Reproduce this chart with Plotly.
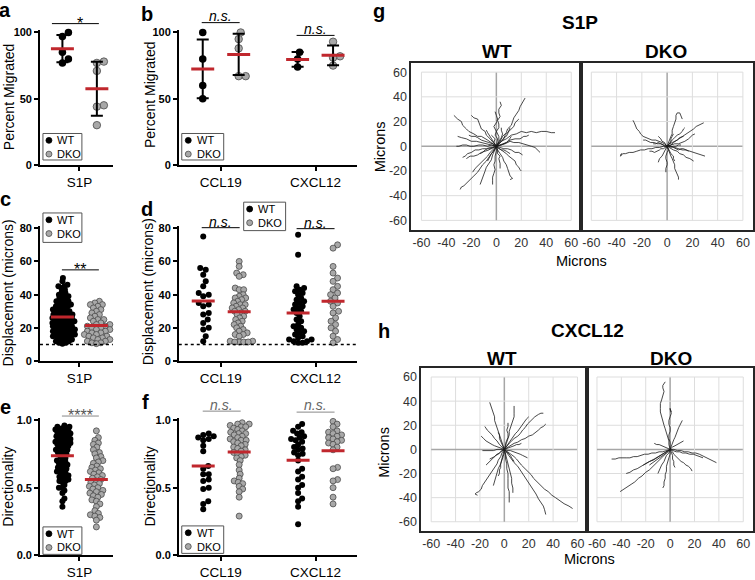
import plotly.graph_objects as go
import statistics as st

W, H = 755, 580
FONT = "Liberation Sans, Arial, Helvetica, sans-serif"
RED = "#c0272d"
GRAY = "#a8a8a8"
GRAY_EDGE = "#4a4a4a"

# ---------------- data ----------------
# a: percent migrated, S1P
a_wt = [100, 97, 85, 80, 77]
a_dko = [78, 77, 71, 45, 44, 30]
# b: percent migrated, CCL19 / CXCL12
b_ccl19_wt = [100, 80, 60, 50]
b_ccl19_dko = [100, 95, 88, 67, 67]
b_cxcl12_wt = [85, 80, 74]
b_cxcl12_dko = [93, 82, 81, 75]
# c: displacement (microns), S1P
c_wt = [50, 48, 46, 45, 45, 44, 43, 42, 41, 40, 40, 39, 38, 38, 37, 36, 36, 35, 35, 34,
        34, 33, 33, 32, 32, 31, 31, 30, 30, 30, 29, 29, 28, 28, 28, 27, 27, 27, 26, 26,
        26, 25, 25, 25, 24, 24, 24, 23, 23, 23, 22, 22, 22, 21, 21, 21, 20, 20, 20, 19,
        19, 19, 18, 18, 18, 17, 17, 17, 16, 16, 16, 15, 15, 15, 14, 14, 13, 13, 12, 12,
        11, 11, 10.5]
c_dko = [36, 35, 34, 34, 33, 32, 31, 30, 29, 28, 27, 26, 25, 25, 24, 23, 22, 22, 21, 21,
         20, 20, 19, 19, 18, 18, 17, 17, 16, 16, 15, 15, 14, 14, 13, 13, 12, 12, 11, 11, 10.5]
# d: displacement (microns), CCL19 / CXCL12
d_ccl19_wt = [75, 56, 55, 52, 48, 45, 41, 40, 39, 35, 34, 33, 29, 28, 25, 23, 20, 19, 15, 12]
d_ccl19_dko = [60, 57, 53, 52, 51, 44, 43, 43, 40, 39, 38, 38, 37, 36, 35, 34, 34, 33, 32, 32,
               31, 30, 30, 29, 28, 27, 26, 25, 24, 23, 22, 21, 20, 19, 18, 17, 16, 16, 15, 12,
               12, 11.5, 11.5, 11.5, 11.5]
d_cxcl12_wt = [76, 64, 45, 44, 43, 42, 41, 40, 38, 37, 36, 35, 34, 33, 32, 31, 30, 29, 27, 25,
               24, 22, 21, 20, 19, 18, 17, 16, 15, 14, 13, 13, 12, 12, 11, 11]
d_cxcl12_dko = [70, 68, 57, 53, 50, 48, 45, 43, 41, 40, 38, 36, 35, 33, 30, 29, 26, 24, 22, 20,
                18, 15, 13, 11]
# e: directionality, S1P
e_wt = [0.96, 0.95, 0.95, 0.94, 0.94, 0.93, 0.93, 0.92, 0.92, 0.91, 0.91, 0.90, 0.90, 0.89,
        0.89, 0.88, 0.88, 0.87, 0.87, 0.86, 0.86, 0.85, 0.85, 0.84, 0.84, 0.83, 0.83, 0.82,
        0.82, 0.81, 0.80, 0.80, 0.79, 0.78, 0.78, 0.77, 0.76, 0.76, 0.75, 0.74, 0.73, 0.72,
        0.71, 0.70, 0.69, 0.68, 0.68, 0.67, 0.66, 0.65, 0.65, 0.64, 0.63, 0.62, 0.62, 0.61,
        0.60, 0.59, 0.58, 0.58, 0.57, 0.56, 0.55, 0.55, 0.54, 0.52, 0.50, 0.50, 0.48, 0.46,
        0.42, 0.40, 0.36]
e_dko = [0.92, 0.87, 0.85, 0.83, 0.82, 0.80, 0.78, 0.76, 0.75, 0.73, 0.72, 0.70, 0.69, 0.68,
         0.66, 0.65, 0.64, 0.63, 0.62, 0.61, 0.60, 0.59, 0.58, 0.57, 0.56, 0.55, 0.54, 0.53,
         0.52, 0.51, 0.50, 0.49, 0.48, 0.47, 0.46, 0.45, 0.44, 0.43, 0.41, 0.40, 0.38, 0.36,
         0.33, 0.31, 0.30, 0.29, 0.28, 0.26, 0.21]
# f: directionality, CCL19 / CXCL12
f_ccl19_wt = [0.90, 0.89, 0.88, 0.87, 0.86, 0.85, 0.81, 0.77, 0.66, 0.64, 0.60, 0.60, 0.56,
              0.55, 0.50, 0.49, 0.40, 0.38, 0.34]
f_ccl19_dko = [0.98, 0.97, 0.97, 0.96, 0.95, 0.95, 0.94, 0.93, 0.92, 0.91, 0.90, 0.90, 0.89,
               0.88, 0.87, 0.86, 0.85, 0.85, 0.84, 0.83, 0.82, 0.81, 0.80, 0.79, 0.78, 0.77,
               0.76, 0.75, 0.74, 0.73, 0.72, 0.70, 0.67, 0.63, 0.60, 0.57, 0.55, 0.54, 0.53,
               0.51, 0.49, 0.47, 0.43, 0.29]
f_cxcl12_wt = [0.97, 0.95, 0.92, 0.91, 0.90, 0.88, 0.87, 0.86, 0.85, 0.84, 0.82, 0.80, 0.79,
               0.78, 0.76, 0.75, 0.74, 0.70, 0.64, 0.62, 0.58, 0.56, 0.52, 0.50, 0.46, 0.42,
               0.40, 0.36, 0.23]
f_cxcl12_dko = [0.99, 0.97, 0.95, 0.92, 0.91, 0.90, 0.89, 0.88, 0.87, 0.86, 0.85, 0.84, 0.83,
                0.82, 0.80, 0.78, 0.65, 0.64, 0.56, 0.55, 0.50, 0.43, 0.38]

# g/h: migration tracks (microns), each track a list of (x, y) waypoints
g_wt_tracks = [
    [(0, 0), (-4, 3), (-7, 5), (-12, 8), (-15, 8), (-18, 10), (-22, 12), (-24, 14), (-27, 17), (-28, 20), (-31, 22), (-34, 25)],
    [(0, 0), (-3, 4), (-5, 6), (-8, 9), (-9, 12), (-12, 14), (-13, 17), (-14, 20), (-15, 22), (-18, 23), (-20, 25)],
    [(0, 0), (1, 4), (1, 6), (-1, 9), (0, 12), (2, 15), (2, 18), (1, 21), (3, 24), (2, 27), (2, 30), (4, 33), (3, 36)],
    [(0, 0), (2, 4), (2, 8), (0, 12), (-2, 16), (0, 19), (1, 22), (0, 25), (-1, 28)],
    [(0, 0), (3, 4), (5, 8), (8, 11), (9, 14), (12, 17), (13, 20), (14, 23), (16, 26), (18, 29), (19, 32), (20, 34), (21, 36), (23, 39)],
    [(0, 0), (3, 3), (6, 6), (7, 9), (10, 12), (12, 14), (14, 16), (15, 19), (18, 22)],
    [(0, 0), (4, 4), (8, 6), (12, 9), (16, 10), (20, 12), (24, 11), (28, 12), (32, 11), (36, 12), (40, 12), (44, 11), (47, 11)],
    [(0, 0), (4, 1), (8, 3), (11, 5), (15, 6), (19, 6), (22, 8), (24, 8), (26, 9)],
    [(0, 0), (4, 1), (7, 2), (11, 4), (14, 3), (18, 3), (22, 2), (25, 1), (28, 0), (31, -1), (33, -3), (35, -5)],
    [(0, 0), (3, -1), (6, -2), (9, -2), (12, -3), (15, -5), (18, -5), (21, -7)],
    [(0, 0), (3, -2), (5, -4), (8, -6), (10, -8), (13, -10), (15, -12), (16, -15), (18, -17), (19, -19), (20, -20)],
    [(0, 0), (1, -3), (3, -6), (5, -9), (6, -12), (8, -15), (9, -18), (10, -21), (11, -24), (13, -26), (11, -27)],
    [(0, 0), (1, -3), (1, -6), (3, -8), (2, -10), (3, -14), (3, -18)],
    [(0, 0), (0, -4), (-1, -8), (-1, -12), (-2, -15), (-1, -19), (-2, -22), (-3, -25), (-3, -28), (-3, -31)],
    [(0, 0), (-2, -4), (-3, -7), (-4, -11), (-6, -14), (-8, -17), (-9, -20), (-10, -23), (-11, -26), (-12, -29), (-13, -31)],
    [(0, 0), (-2, -3), (-4, -6), (-6, -9), (-8, -12), (-11, -15), (-13, -18), (-15, -21), (-18, -24), (-20, -26), (-22, -28), (-24, -30), (-26, -32), (-28, -33), (-29, -35)],
    [(0, 0), (-3, -3), (-5, -5), (-7, -8), (-10, -11), (-12, -13), (-15, -16), (-17, -18), (-19, -21)],
    [(0, 0), (-3, -1), (-6, -3), (-9, -4), (-12, -5), (-15, -7), (-18, -8), (-21, -8), (-24, -10)],
    [(0, 0), (-4, 1), (-7, 0), (-11, 1), (-14, 1), (-18, 0), (-21, 0), (-24, 1), (-27, 1), (-30, 0), (-32, 0)],
    [(0, 0), (-4, 1), (-8, 2), (-12, 3), (-16, 4), (-20, 4), (-24, 6), (-28, 7), (-31, 8)],
    [(0, 0), (-3, 2), (-6, 3), (-9, 4), (-12, 5), (-15, 7), (-17, 8), (-20, 8), (-22, 9)],
    [(0, 0), (-2, 3), (-3, 5), (-5, 7), (-6, 9), (-7, 11), (-8, 13)],
    [(0, 0), (2, 3), (3, 5), (4, 7), (5, 10), (4, 13), (4, 15)],
    [(0, 0), (3, 1), (5, 2), (8, 3), (10, 5), (11, 7), (12, 8)],
    [(0, 0), (-1, -2), (-2, -4), (-4, -6), (-5, -8), (-6, -10), (-7, -12)],
    [(0, 0), (2, -2), (4, -3), (6, -3), (8, -4), (10, -5), (11, -6)],
    [(0, 0), (-2, -1), (-4, -2), (-7, -2), (-9, -3), (-11, -5), (-13, -6)],
    [(0, 0), (-2, 3), (-1, 6), (-3, 8), (-4, 9)],
    [(0, 0), (-3, -1), (-5, -1), (-8, -2), (-11, -2), (-14, -3), (-17, -3), (-20, -5), (-23, -6), (-25, -8), (-27, -9)],
    [(0, 0), (2, 2), (3, 3), (5, 5), (6, 7), (8, 8), (9, 10), (10, 13), (11, 15)],
]
g_dko_tracks = [
    [(0, 0), (-2, 2), (-4, 3), (-7, 4), (-9, 5), (-12, 5), (-14, 6), (-17, 7), (-19, 8), (-21, 10), (-22, 12), (-24, 14), (-25, 17), (-26, 19), (-27, 21)],
    [(0, 0), (-3, 0), (-6, -1), (-9, -1), (-12, -2), (-15, -2), (-18, -3), (-21, -3), (-24, -4), (-27, -5), (-30, -5), (-33, -6), (-35, -6), (-37, -8), (-36, -6), (-37, -7)],
    [(0, 0), (1, 3), (2, 5), (3, 8), (4, 10), (4, 13), (5, 16), (6, 19), (7, 22), (7, 25), (8, 27), (10, 27), (11, 25), (12, 22)],
    [(0, 0), (3, 1), (5, 3), (8, 5), (10, 6), (13, 8), (16, 10), (18, 12), (21, 14), (23, 16), (25, 17), (27, 18), (29, 19)],
    [(0, 0), (3, 0), (6, -1), (9, -2), (12, -3), (15, -3), (18, -4), (21, -5), (24, -6), (27, -7), (30, -8)],
    [(0, 0), (3, -2), (5, -3), (8, -4), (10, -6), (13, -7), (15, -9), (18, -10), (21, -12)],
    [(0, 0), (1, -3), (2, -5), (3, -8), (4, -10), (5, -13), (6, -15), (6, -18), (7, -20), (8, -23), (9, -25), (9, -27)],
    [(0, 0), (1, -3), (0, -5), (-1, -8), (-1, -10), (0, -13), (0, -15), (-1, -18), (-1, -21)],
    [(0, 0), (-1, -2), (-2, -4), (-3, -6), (-4, -8), (-6, -10), (-7, -13)],
    [(0, 0), (2, 2), (4, 3), (6, 4), (8, 5), (10, 7), (13, 8)],
    [(0, 0), (2, 3), (4, 5), (6, 7), (8, 9), (10, 10), (12, 12), (13, 14), (14, 15)],
    [(0, 0), (-3, 1), (-5, 2), (-8, 2), (-10, 3), (-13, 3), (-15, 4), (-17, 5), (-19, 5)],
    [(0, 0), (-2, 0), (-3, 1), (-5, 2), (-7, 3), (-9, 2), (-11, 2)],
    [(0, 0), (2, 0), (3, -1), (5, 0), (7, 0), (9, 1), (11, 1)],
    [(0, 0), (-2, -1), (-3, -2), (-5, -2), (-6, -3), (-8, -4), (-10, -5), (-12, -4), (-14, -4)],
    [(0, 0), (1, 1), (2, 2), (3, 4), (3, 6), (4, 8), (5, 10)],
    [(0, 0), (3, 0), (5, -1), (7, -2), (9, -3), (11, -2), (13, -2), (15, -3), (17, -4)],
    [(0, 0), (1, -2), (1, -3), (2, -5), (3, -6), (4, -7), (5, -8), (5, -10), (6, -12)],
    [(0, 0), (-1, 1), (-2, 3), (-4, 4), (-5, 6), (-6, 7), (-7, 8)],
    [(0, 0), (3, 1), (6, 2), (9, 2), (12, 3), (14, 4), (17, 6), (19, 8), (20, 9), (22, 10)],
]
h_wt_tracks = [
    [(0, 0), (-1, 3), (-2, 6), (-3, 9), (-4, 12), (-5, 15), (-6, 18), (-7, 21), (-8, 24), (-8, 27), (-9, 30), (-10, 33), (-11, 36), (-12, 39)],
    [(0, 0), (-2, -3), (-3, -6), (-5, -9), (-6, -12), (-8, -15), (-10, -18), (-12, -21), (-14, -24), (-16, -27), (-18, -30), (-19, -33), (-21, -35), (-23, -36), (-24, -37), (-22, -38)],
    [(0, 0), (-3, 1), (-5, 2), (-8, 3), (-10, 4), (-12, 5), (-15, 7), (-17, 9), (-19, 11)],
    [(0, 0), (-3, 0), (-6, 0), (-9, -1), (-12, -1), (-15, -1), (-18, -1)],
    [(0, 0), (-2, 2), (-4, 4), (-6, 7), (-8, 9), (-10, 12), (-12, 14), (-14, 16), (-16, 19)],
    [(0, 0), (0, -3), (-1, -6), (-2, -9), (-3, -12), (-3, -15), (-4, -17), (-4, -20), (-5, -22)],
    [(0, 0), (1, -4), (1, -8), (2, -12), (2, -16), (3, -20), (3, -24), (3, -28), (3, -32), (4, -35), (4, -38), (4, -41), (4, -44)],
    [(0, 0), (-1, -4), (-2, -8), (-3, -12), (-5, -16), (-6, -20), (-7, -24), (-8, -27), (-9, -30)],
    [(0, 0), (1, 3), (2, 6), (3, 9), (4, 12), (4, 15), (5, 18), (6, 21), (7, 24), (8, 27), (8, 30), (8, 33), (8, 36)],
    [(0, 0), (2, 3), (4, 5), (6, 7), (8, 9), (11, 11), (13, 13), (15, 16), (17, 18), (19, 21), (21, 23), (23, 25), (25, 27), (28, 29), (30, 30), (32, 30)],
    [(0, 0), (3, 2), (5, 3), (8, 5), (11, 6), (14, 8), (17, 9), (20, 11), (23, 12), (26, 14), (28, 16), (30, 18), (32, 19), (34, 21)],
    [(0, 0), (2, 3), (3, 5), (5, 8), (7, 10), (9, 13), (11, 15), (13, 18), (15, 20), (17, 23), (18, 25), (20, 27)],
    [(0, 0), (3, -2), (5, -4), (8, -6), (10, -8), (12, -11), (14, -13), (17, -16), (19, -18), (22, -21), (24, -24), (27, -27), (30, -30), (33, -33), (36, -35), (39, -38), (42, -40), (46, -43), (49, -45), (53, -47), (56, -49)],
    [(0, 0), (2, -3), (4, -5), (6, -8), (8, -11), (11, -14), (13, -17), (16, -21), (18, -24), (20, -27), (22, -30), (24, -34), (26, -37), (28, -41), (30, -44), (32, -47), (33, -50), (34, -54)],
    [(0, 0), (3, -1), (5, -1), (8, -2), (10, -3), (13, -4), (15, -5), (17, -6), (19, -7)],
    [(0, 0), (1, -4), (2, -8), (3, -12), (4, -16), (5, -20), (6, -24), (6, -28), (7, -32), (7, -36)],
    [(0, 0), (3, 1), (5, 2), (8, 3), (10, 4), (12, 4), (14, 5)],
    [(0, 0), (-2, -1), (-4, -3), (-6, -4), (-8, -6), (-10, -7), (-12, -8)],
    [(0, 0), (-1, 2), (-2, 4), (-3, 7), (-4, 9), (-4, 12), (-5, 14)],
    [(0, 0), (2, -2), (3, -3), (5, -5), (6, -7), (7, -9), (8, -10)],
    [(0, 0), (-2, -1), (-3, -2), (-5, -4), (-7, -5), (-9, -7), (-11, -9), (-13, -11), (-15, -13)],
    [(0, 0), (1, 3), (1, 5), (2, 8), (3, 10), (3, 13), (2, 16), (3, 19), (3, 22)],
]
h_dko_tracks = [
    [(0, 0), (-1, 4), (-1, 7), (-2, 11), (-3, 14), (-4, 17), (-5, 20), (-6, 24), (-7, 27), (-8, 31), (-8, 34), (-8, 38), (-7, 41), (-6, 45), (-5, 48), (-6, 51), (-6, 53), (-4, 56)],
    [(0, 0), (0, 3), (0, 6), (-1, 9), (-1, 12), (0, 15), (0, 18), (-1, 21), (-1, 24), (0, 27), (1, 30), (0, 33), (0, 34), (1, 31)],
    [(0, 0), (1, 3), (2, 5), (3, 8), (4, 10), (5, 13), (6, 15), (7, 18), (8, 20), (9, 22), (10, 24)],
    [(0, 0), (-3, -1), (-6, -2), (-9, -2), (-12, -3), (-15, -3), (-18, -4), (-21, -4), (-24, -5), (-27, -6), (-30, -6), (-33, -7), (-36, -7), (-39, -7), (-42, -7), (-45, -8), (-48, -8)],
    [(0, 0), (3, 0), (6, -1), (9, -1), (12, -2), (15, -2), (18, -3), (21, -3), (24, -4), (26, -5), (28, -6), (31, -7), (33, -8), (36, -10), (38, -11)],
    [(0, 0), (-2, -2), (-4, -4), (-7, -7), (-9, -9), (-12, -12), (-14, -14), (-17, -17), (-20, -19), (-23, -22), (-26, -24), (-29, -27), (-32, -29), (-35, -31), (-37, -32), (-39, -34), (-41, -35)],
    [(0, 0), (-3, -2), (-5, -3), (-8, -5), (-11, -7), (-14, -9), (-17, -10), (-20, -12), (-24, -14), (-27, -16), (-30, -17), (-33, -19), (-36, -20)],
    [(0, 0), (-3, -2), (-5, -3), (-8, -5), (-10, -6), (-13, -8), (-15, -9), (-17, -10), (-19, -11), (-21, -12), (-22, -13)],
    [(0, 0), (0, -4), (-1, -7), (-2, -11), (-3, -14), (-3, -18), (-4, -21), (-4, -24), (-5, -27), (-5, -30), (-6, -32)],
    [(0, 0), (2, -2), (3, -4), (5, -6), (7, -8), (9, -10), (11, -11), (13, -13), (15, -14), (17, -16), (18, -18)],
    [(0, 0), (-2, 1), (-4, 2), (-7, 3), (-9, 4), (-11, 4), (-13, 5)],
    [(0, 0), (3, -1), (5, -2), (8, -2), (10, -3), (13, -3), (16, -4), (19, -4), (22, -5), (25, -6), (27, -7)],
    [(0, 0), (-1, -3), (-3, -5), (-4, -8), (-5, -10), (-7, -13), (-8, -15), (-9, -18), (-10, -20)],
    [(0, 0), (1, -3), (2, -5), (2, -8), (3, -10), (3, -13), (4, -15)],
    [(0, 0), (-3, -3), (-6, -5), (-9, -7), (-12, -9), (-15, -11), (-17, -13)],
    [(0, 0), (2, 2), (4, 3), (6, 4), (8, 5), (10, 6), (11, 7)],
]
track_ticks = [-60, -40, -20, 0, 20, 40, 60]
track_tick_labels = ["-60", "-40", "-20", "0", "20", "40", "60"]

# ---------------- helpers ----------------
def px(x):
    return x / W


def py(y):
    return 1 - y / H


fig = go.Figure()
shapes = []
annotations = []


def text(x, y, s, size, bold=False, italic=False, color="black", xanchor="center", angle=0):
    annotations.append(dict(
        x=px(x), y=py(y), xref="paper", yref="paper", text=s, showarrow=False,
        textangle=angle, xanchor=xanchor, yanchor="middle",
        font=dict(family=FONT, size=size, color=color,
                  weight="bold" if bold else "normal",
                  style="italic" if italic else "normal")))


def pline(x0, y0, x1, y1, color="black", width=1):
    shapes.append(dict(type="line", xref="paper", yref="paper", x0=px(x0), y0=py(y0),
                       x1=px(x1), y1=py(y1), line=dict(color=color, width=width)))


def swarm(values, yscale, d):
    n = len(values)
    order = sorted(range(n), key=lambda i: values[i])
    placed = []
    offs = [0.0] * n
    cands = [0.0]
    for k in range(1, 200):
        cands += [0.5 * k, -0.5 * k]
    for i in order:
        yp = values[i] * yscale
        for c in cands:
            if all((c - xo) ** 2 + (yp - yo) ** 2 >= d * d - 1e-9 for xo, yo in placed):
                break
        placed.append((c, yp))
        offs[i] = c
    return offs


# panel geometry (px)
panels = {
    "a": dict(n="", xdom=(40, 113), ydom=(27, 164), yr=[0, 101.5], yt=[0, 50, 100],
              ytt=["0", "50", "100"], xt=[39.5], xtt=["S1P"]),
    "b": dict(n="2", xdom=(179, 357), ydom=(27, 164), yr=[0, 101.5], yt=[0, 50, 100],
              ytt=["0", "50", "100"], xt=[42, 137], xtt=["CCL19", "CXCL12"]),
    "c": dict(n="3", xdom=(40, 113), ydom=(226, 364), yr=[0, 81.5], yt=[0, 20, 40, 60, 80],
              ytt=["0", "20", "40", "60", "80"], xt=[39.5], xtt=["S1P"]),
    "d": dict(n="4", xdom=(179, 357), ydom=(226, 364), yr=[0, 81.5], yt=[0, 20, 40, 60, 80],
              ytt=["0", "20", "40", "60", "80"], xt=[42, 137], xtt=["CCL19", "CXCL12"]),
    "e": dict(n="5", xdom=(40, 113), ydom=(422, 562), yr=[0, 1.015], yt=[0, 0.5, 1.0],
              ytt=["0.0", "0.5", "1.0"], xt=[39.5], xtt=["S1P"]),
    "f": dict(n="6", xdom=(179, 357), ydom=(422, 562), yr=[0, 1.015], yt=[0, 0.5, 1.0],
              ytt=["0.0", "0.5", "1.0"], xt=[42, 137], xtt=["CCL19", "CXCL12"]),
}

layout_axes = {}
for key, p in panels.items():
    n = p["n"]
    layout_axes["xaxis" + n] = dict(
        domain=[px(p["xdom"][0]), px(p["xdom"][1])], range=[0, p["xdom"][1] - p["xdom"][0]],
        anchor="y" + n, showline=True, linecolor="black", linewidth=1.5, ticks="outside",
        ticklen=4, tickwidth=1.5, tickcolor="black", tickvals=p["xt"], ticktext=p["xtt"],
        showgrid=False, zeroline=False, tickfont=dict(family=FONT, size=13.5, color="black"),
        fixedrange=True)
    layout_axes["yaxis" + n] = dict(
        domain=[py(p["ydom"][1]), py(p["ydom"][0])], range=p["yr"], anchor="x" + n,
        showline=True, linecolor="black", linewidth=1.5, ticks="outside", ticklen=4,
        tickwidth=1.5, tickcolor="black", tickvals=p["yt"], ticktext=p["ytt"], showgrid=False,
        zeroline=False, tickfont=dict(family=FONT, size=11, color="black", weight="bold"),
        fixedrange=True)
    p["yscale"] = (p["ydom"][1] - p["ydom"][0]) / (p["yr"][1] - p["yr"][0])


def add_group(key, center, values, dko, d, size, sd_bars=False):
    p = panels[key]
    n = p["n"]
    offs = swarm(values, p["yscale"], d)
    fig.add_trace(go.Scatter(
        x=[center + o for o in offs], y=values, mode="markers", xaxis="x" + n, yaxis="y" + n,
        cliponaxis=False, hoverinfo="skip",
        marker=dict(size=size, color=GRAY if dko else "black",
                    line=dict(color=GRAY_EDGE if dko else "black", width=0.8 if dko else 0))))
    m = st.mean(values)
    if sd_bars:
        fig.add_trace(go.Scatter(
            x=[center], y=[m], mode="markers", xaxis="x" + n, yaxis="y" + n,
            marker=dict(size=1, color="rgba(0,0,0,0)"), cliponaxis=False, hoverinfo="skip",
            error_y=dict(type="data", array=[st.stdev(values)], visible=True, color="black",
                         thickness=2, width=6)))
    fig.add_trace(go.Scatter(
        x=[center - 11.5, center + 11.5], y=[m, m], mode="lines", xaxis="x" + n, yaxis="y" + n,
        line=dict(color=RED, width=3), cliponaxis=False, hoverinfo="skip"))


# a, b
add_group("a", 22.5, a_wt, False, 7, 7.5, True)
add_group("a", 57, a_dko, True, 7, 7.5, True)
add_group("b", 24, b_ccl19_wt, False, 7, 7.5, True)
add_group("b", 60, b_ccl19_dko, True, 7, 7.5, True)
add_group("b", 119, b_cxcl12_wt, False, 7, 7.5, True)
add_group("b", 154.5, b_cxcl12_dko, True, 7, 7.5, True)
# c, d
add_group("c", 22.5, c_wt, False, 3.4, 6)
add_group("c", 56.5, c_dko, True, 4.4, 6)
add_group("d", 24.5, d_ccl19_wt, False, 5.5, 6)
add_group("d", 60.5, d_ccl19_dko, True, 4.2, 6)
add_group("d", 119.5, d_cxcl12_wt, False, 4.4, 6)
add_group("d", 154.5, d_cxcl12_dko, True, 5.5, 6)
# e, f
add_group("e", 22.5, e_wt, False, 3.2, 6)
add_group("e", 56.5, e_dko, True, 4.4, 6)
add_group("f", 24.5, f_ccl19_wt, False, 5.5, 6)
add_group("f", 60.5, f_ccl19_dko, True, 4.2, 6)
add_group("f", 119.5, f_cxcl12_wt, False, 4.6, 6)
add_group("f", 154.5, f_cxcl12_dko, True, 4.6, 6)

# dotted threshold lines (10 microns)
for n in ["3", "4"]:
    shapes.append(dict(type="line", xref="x" + n + " domain", yref="y" + n, x0=0, x1=1,
                       y0=10, y1=10, line=dict(color="black", width=1.5, dash="dot")))

# ---------------- track panels ----------------
track_panels = [
    dict(n="7", xdom=(412, 582), ydom=(60, 230), tracks=g_wt_tracks, ylab=True),
    dict(n="8", xdom=(582, 754), ydom=(60, 230), tracks=g_dko_tracks, ylab=False),
    dict(n="9", xdom=(422, 588), ydom=(371, 537), tracks=h_wt_tracks, ylab=True),
    dict(n="10", xdom=(588, 754), ydom=(371, 537), tracks=h_dko_tracks, ylab=False),
]
for tp in track_panels:
    n = tp["n"]
    layout_axes["xaxis" + n] = dict(
        domain=[px(tp["xdom"][0]), px(tp["xdom"][1])], range=[-68, 68], anchor="y" + n,
        showline=True, mirror=True, linecolor="#262626", linewidth=2, ticks="",
        tickvals=track_ticks, ticktext=track_tick_labels,
        showgrid=False, zeroline=False, tickfont=dict(family=FONT, size=12.5, color="#333"),
        fixedrange=True)
    layout_axes["yaxis" + n] = dict(
        domain=[py(tp["ydom"][1]), py(tp["ydom"][0])], range=[-67.5, 67.5], anchor="x" + n,
        showline=True, mirror=True, linecolor="#262626", linewidth=2, ticks="",
        tickvals=track_ticks, ticktext=track_tick_labels, showticklabels=tp["ylab"],
        showgrid=False, zeroline=False,
        tickfont=dict(family=FONT, size=12.5, color="#333"), fixedrange=True)
    for v in track_ticks:
        col, wd = ("#a6a6a6", 1.5) if v == 0 else ("#dddddd", 1)
        shapes.append(dict(type="line", xref="x" + n, yref="y" + n, x0=v, x1=v,
                           y0=track_ticks[0], y1=track_ticks[-1], layer="below",
                           line=dict(color=col, width=wd)))
        shapes.append(dict(type="line", xref="x" + n, yref="y" + n, y0=v, y1=v,
                           x0=track_ticks[0], x1=track_ticks[-1], layer="below",
                           line=dict(color=col, width=wd)))
    xs, ys = [], []
    for t in tp["tracks"]:
        for (x, y) in t:
            xs.append(x)
            ys.append(y)
        xs.append(None)
        ys.append(None)
    fig.add_trace(go.Scatter(x=xs, y=ys, mode="lines", xaxis="x" + n, yaxis="y" + n,
                             line=dict(color="#1a1a1a", width=0.8), hoverinfo="skip"))

# ---------------- legends ----------------
legends = [
    (43, 132, 82, 159, 49, 55, 139, 153),
    (182, 132, 224, 159, 188.5, 195, 139, 153),
    (43, 213, 82, 243, 49, 55, 220, 234),
    (244, 202, 286, 231, 250, 256, 209, 223),
    (43, 533, 82, 561, 49, 55, 540, 554),
    (182, 532, 224, 560, 188.5, 195, 539, 553),
]
for (x0, y0, x1, y1, mx, tx, r1, r2) in legends:
    shapes.append(dict(type="rect", xref="paper", yref="paper", x0=px(x0), x1=px(x1),
                       y0=py(y1), y1=py(y0), line=dict(color="#555", width=1),
                       fillcolor="white"))
    for cy, lab, fill, edge in [(r1, "WT", "black", "black"), (r2, "DKO", GRAY, GRAY_EDGE)]:
        shapes.append(dict(type="circle", xref="paper", yref="paper", x0=px(mx - 3),
                           x1=px(mx + 3), y0=py(cy + 3), y1=py(cy - 3), fillcolor=fill,
                           line=dict(color=edge, width=0.8)))
        text(tx, cy, lab, 11, xanchor="left")

# ---------------- significance ----------------
pline(52, 20, 99, 20)
text(80, 20, "*", 16)
pline(202, 19, 240, 19)
text(221, 12.5, "n.s.", 14, italic=True)
pline(297, 32, 335, 32)
text(316, 25.5, "n.s.", 14, italic=True)
pline(62, 271, 99, 271)
text(80.5, 271, "**", 16)
pline(202, 228, 240, 228)
text(221, 222.5, "n.s.", 14, italic=True)
pline(297, 229, 335, 229)
text(316, 223.5, "n.s.", 14, italic=True)
pline(62, 420, 99, 420, color="#888")
text(80.5, 419, "****", 16, color="#555")
pline(203, 415, 241, 415, color="#888")
text(222, 408.5, "n.s.", 14, italic=True, color="#666")
pline(297, 416, 335, 416, color="#888")
text(316, 408.5, "n.s.", 14, italic=True, color="#666")

# ---------------- axis titles ----------------
text(9, 94, "Percent Migrated", 14, angle=-90)
text(150, 92, "Percent Migrated", 14, angle=-90)
text(8, 294, "Displacement (microns)", 14, angle=-90)
text(149, 293, "Displacement (microns)", 14, angle=-90)
text(8, 492, "Directionality", 14, angle=-90)
text(150, 492, "Directionality", 14, angle=-90)
text(380.5, 145, "Microns", 14.5, angle=-90)
text(385, 457, "Microns", 14.5, angle=-90)
text(582, 262, "Microns", 14.5)
text(590, 566, "Microns", 14.5)

# ---------------- panel letters & titles ----------------
for lab, x, base in [("a", 5.5, 13), ("b", 147.5, 17), ("c", 5.5, 205), ("d", 147.5, 215),
                     ("e", 6, 417), ("f", 146, 412), ("g", 380, 14), ("h", 385, 340)]:
    text(x, base - 6.4, lab, 20, bold=True)
text(581, 18.5, "S1P", 19, bold=True)
text(498, 48.5, "WT", 19, bold=True)
text(667, 48.5, "DKO", 19, bold=True)
text(588, 332.5, "CXCL12", 19, bold=True)
text(503, 361.5, "WT", 19, bold=True)
text(672, 361.5, "DKO", 19, bold=True)

fig.update_layout(
    width=W, height=H, autosize=False, margin=dict(l=0, r=0, t=0, b=0),
    paper_bgcolor="white", plot_bgcolor="white", showlegend=False,
    font=dict(family=FONT, color="black"), shapes=shapes, annotations=annotations,
    **layout_axes)

fig.write_html("out.html", config={"displayModeBar": False},
               post_script="document.body.style.margin='0';document.body.style.overflow='hidden';")
